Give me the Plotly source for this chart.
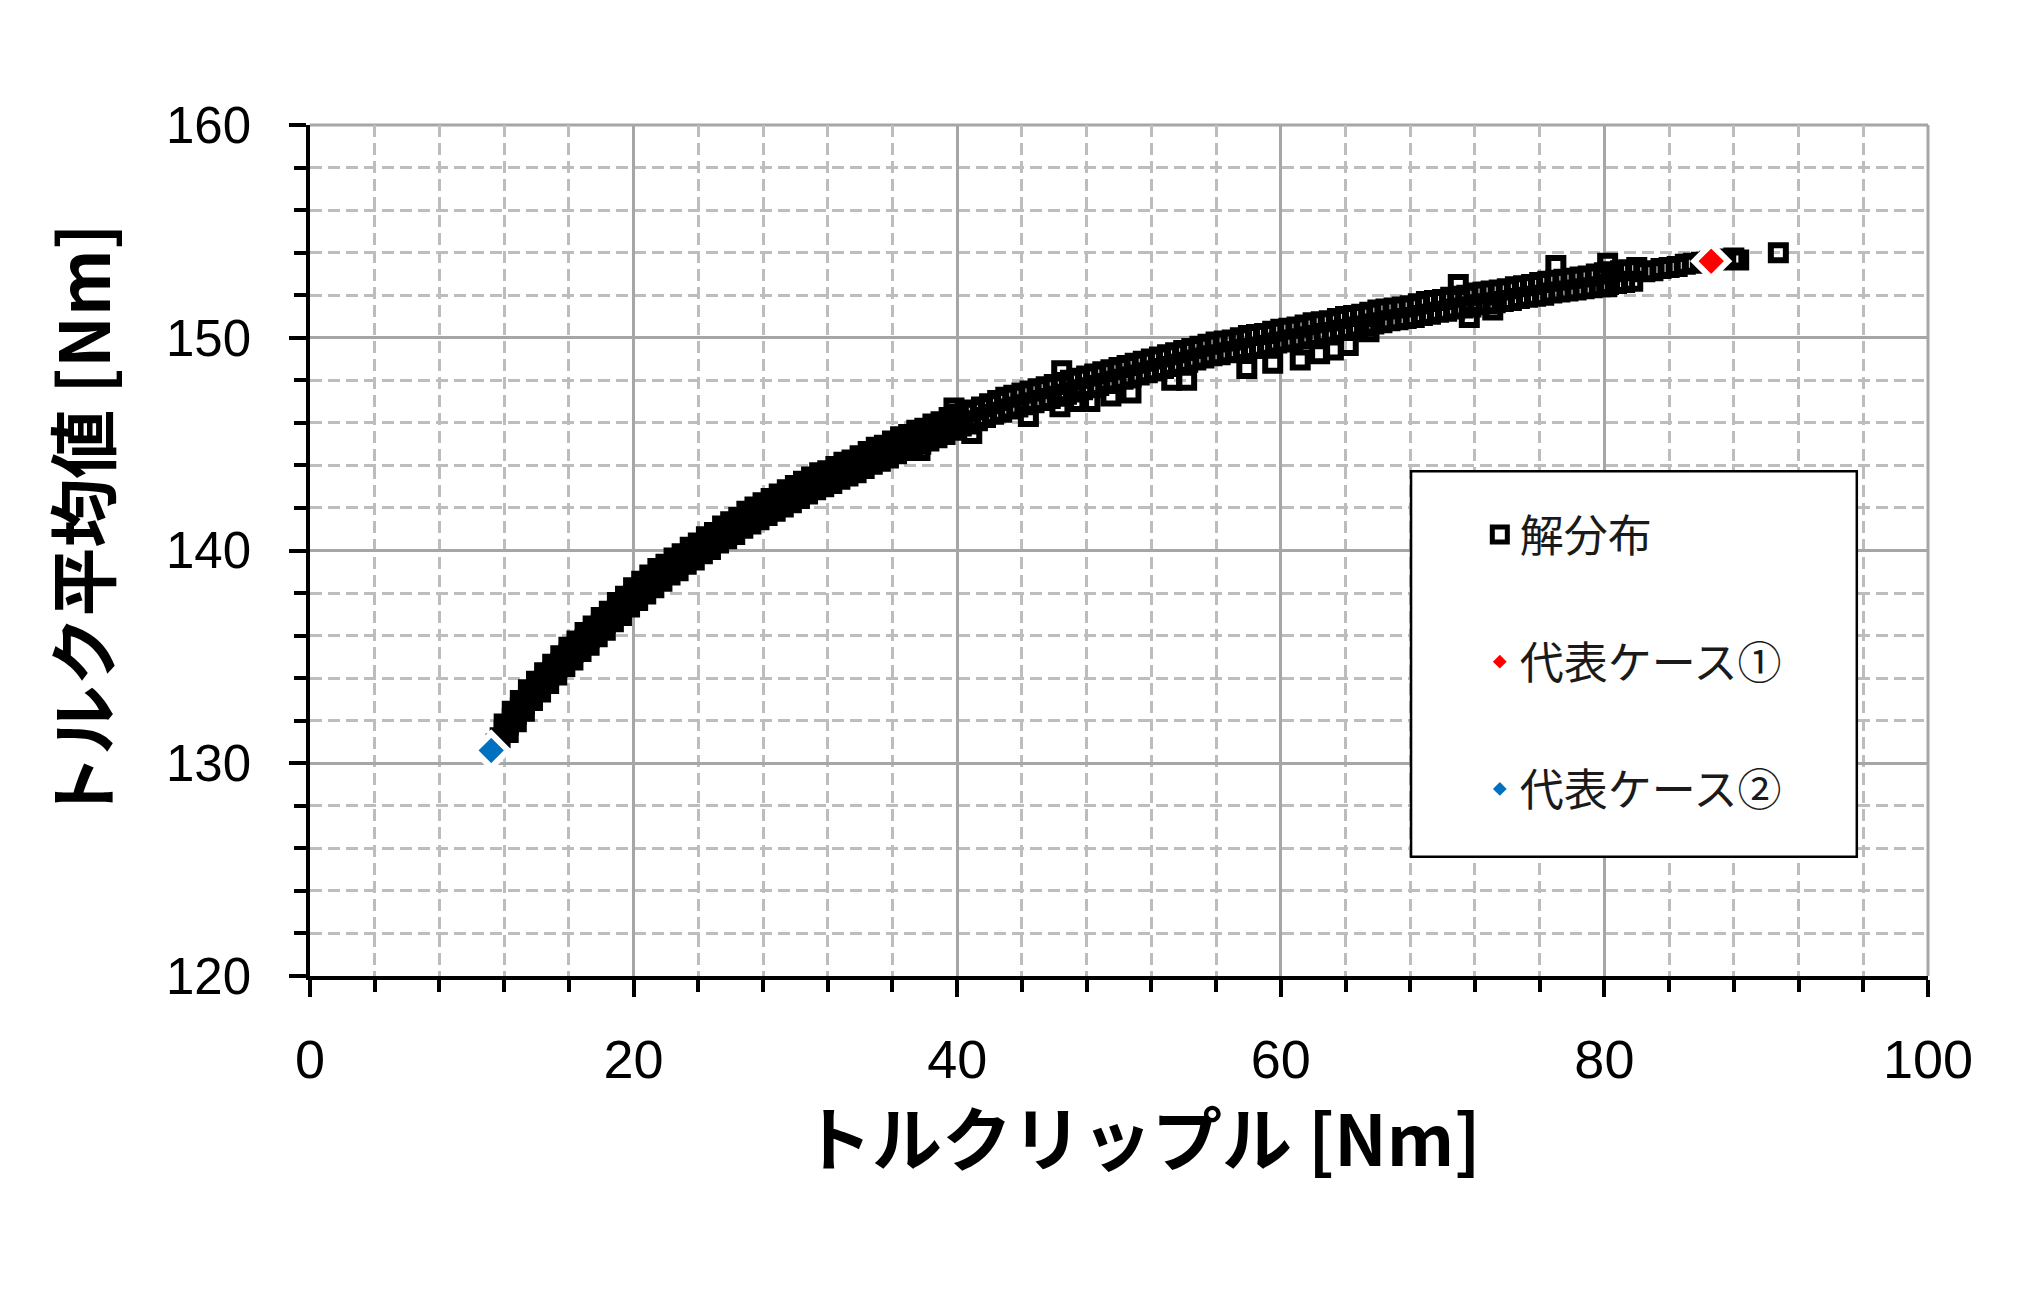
import plotly.graph_objects as go

# ---------------- data ----------------
# 解分布: dense band of solutions (torque ripple [Nm], mean torque [Nm])
# centre row, 11.5-40
ripple_a = [11.5, 11.75, 12.0, 12.25, 12.5, 12.75, 13.0, 13.25, 13.5, 13.75,
            14.0, 14.25, 14.5, 14.75, 15.0, 15.25, 15.5, 15.75, 16.0, 16.25,
            16.5, 16.75, 17.0, 17.25, 17.5, 17.75, 18.0, 18.25, 18.5, 18.75,
            19.0, 19.25, 19.5, 19.75, 20.0, 20.25, 20.5, 20.75, 21.0, 21.25,
            21.5, 21.75, 22.0, 22.25, 22.5, 22.75, 23.0, 23.25, 23.5, 23.75,
            24.0, 24.25, 24.5, 24.75, 25.0, 25.25, 25.5, 25.75, 26.0, 26.25,
            26.5, 26.75, 27.0, 27.25, 27.5, 27.75, 28.0, 28.25, 28.5, 28.75,
            29.0, 29.25, 29.5, 29.75, 30.0, 30.25, 30.5, 30.75, 31.0, 31.25,
            31.5, 31.75, 32.0, 32.25, 32.5, 32.75, 33.0, 33.25, 33.5, 33.75,
            34.0, 34.25, 34.5, 34.75, 35.0, 35.25, 35.5, 35.75, 36.0, 36.25,
            36.5, 36.75, 37.0, 37.25, 37.5, 37.75, 38.0, 38.25, 38.5, 38.75,
            39.0, 39.25, 39.5, 39.75]
mean_a = [130.9, 131.2, 131.5, 131.8, 132.1, 132.3, 132.6, 132.8, 133.1, 133.3,
          133.5, 133.7, 133.9, 134.1, 134.3, 134.5, 134.7, 134.9, 135.1, 135.2,
          135.4, 135.6, 135.8, 135.9, 136.1, 136.3, 136.5, 136.6, 136.8, 137.0,
          137.2, 137.3, 137.5, 137.7, 137.9, 138.0, 138.2, 138.3, 138.5, 138.6,
          138.8, 138.9, 139.0, 139.2, 139.3, 139.4, 139.5, 139.7, 139.8, 139.9,
          140.0, 140.2, 140.3, 140.4, 140.5, 140.7, 140.8, 140.9, 141.0, 141.1,
          141.2, 141.4, 141.5, 141.6, 141.7, 141.8, 141.9, 142.0, 142.1, 142.2,
          142.3, 142.4, 142.5, 142.6, 142.7, 142.8, 142.9, 143.0, 143.1, 143.2,
          143.3, 143.35, 143.4, 143.5, 143.6, 143.7, 143.8, 143.85, 143.9, 144.0,
          144.1, 144.2, 144.3, 144.4, 144.5, 144.55, 144.6, 144.7, 144.8, 144.9,
          145.0, 145.05, 145.1, 145.2, 145.3, 145.35, 145.4, 145.5, 145.6, 145.65,
          145.7, 145.8, 145.9, 146.0]

# upper edge row, 12-40
ripple_b = [12.0, 12.5, 13.0, 13.5, 14.0, 14.5, 15.0, 15.5, 16.0, 16.5,
            17.0, 17.5, 18.0, 18.5, 19.0, 19.5, 20.0, 20.5, 21.0, 21.5,
            22.0, 22.5, 23.0, 23.5, 24.0, 24.5, 25.0, 25.5, 26.0, 26.5,
            27.0, 27.5, 28.0, 28.5, 29.0, 29.5, 30.0, 30.5, 31.0, 31.5,
            32.0, 32.5, 33.0, 33.5, 34.0, 34.5, 35.0, 35.5, 36.0, 36.5,
            37.0, 37.5, 38.0, 38.5, 39.0, 39.5]
mean_b = [131.85, 132.45, 132.95, 133.45, 133.85, 134.25, 134.65, 135.05, 135.45, 135.75,
          136.15, 136.45, 136.85, 137.15, 137.55, 137.85, 138.25, 138.55, 138.85, 139.15,
          139.35, 139.65, 139.85, 140.15, 140.35, 140.65, 140.85, 141.15, 141.35, 141.55,
          141.85, 142.05, 142.25, 142.45, 142.65, 142.85, 143.05, 143.25, 143.45, 143.65,
          143.75, 143.95, 144.15, 144.25, 144.45, 144.65, 144.85, 144.95, 145.15, 145.35,
          145.45, 145.65, 145.75, 145.95, 146.05, 146.25]

# lower edge row, 12-40
ripple_g = [12.25, 12.75, 13.25, 13.75, 14.25, 14.75, 15.25, 15.75, 16.25, 16.75,
            17.25, 17.75, 18.25, 18.75, 19.25, 19.75, 20.25, 20.75, 21.25, 21.75,
            22.25, 22.75, 23.25, 23.75, 24.25, 24.75, 25.25, 25.75, 26.25, 26.75,
            27.25, 27.75, 28.25, 28.75, 29.25, 29.75, 30.25, 30.75, 31.25, 31.75,
            32.25, 32.75, 33.25, 33.75, 34.25, 34.75, 35.25, 35.75, 36.25, 36.75,
            37.25, 37.75, 38.25, 38.75, 39.25, 39.75]
mean_g = [131.45, 131.95, 132.45, 132.95, 133.35, 133.75, 134.15, 134.55, 134.85, 135.25,
          135.55, 135.95, 136.25, 136.65, 136.95, 137.35, 137.65, 137.95, 138.25, 138.55,
          138.85, 139.05, 139.35, 139.55, 139.85, 140.05, 140.35, 140.55, 140.75, 141.05,
          141.25, 141.45, 141.65, 141.85, 142.05, 142.25, 142.45, 142.65, 142.85, 143.0,
          143.15, 143.35, 143.5, 143.65, 143.85, 144.05, 144.2, 144.35, 144.55, 144.7,
          144.85, 145.0, 145.15, 145.3, 145.45, 145.65]

# upper row of the band, 40-82
ripple_c = [40.0, 40.5, 41.0, 41.5, 42.0, 42.5, 43.0, 43.5, 44.0, 44.5,
            45.0, 45.5, 46.0, 46.5, 47.0, 47.5, 48.0, 48.5, 49.0, 49.5,
            50.0, 50.5, 51.0, 51.5, 52.0, 52.5, 53.0, 53.5, 54.0, 54.5,
            55.0, 55.5, 56.0, 56.5, 57.0, 57.5, 58.0, 58.5, 59.0, 59.5,
            60.0, 60.5, 61.0, 61.5, 62.0, 62.5, 63.0, 63.5, 64.0, 64.5,
            65.0, 65.5, 66.0, 66.5, 67.0, 67.5, 68.0, 68.5, 69.0, 69.5,
            70.0, 70.5, 71.0, 71.5, 72.0, 72.5, 73.0, 73.5, 74.0, 74.5,
            75.0, 75.5, 76.0, 76.5, 77.0, 77.5, 78.0, 78.5, 79.0, 79.5,
            80.0, 80.5, 81.0, 81.5, 82.0]
mean_c = [146.4, 146.5, 146.6, 146.75, 146.9, 147.05, 147.2, 147.3, 147.4, 147.5,
          147.6, 147.7, 147.8, 147.9, 148.0, 148.1, 148.2, 148.3, 148.4, 148.5,
          148.6, 148.7, 148.8, 148.9, 149.0, 149.1, 149.2, 149.3, 149.4, 149.5,
          149.6, 149.7, 149.8, 149.85, 149.9, 150.0, 150.1, 150.15, 150.2, 150.3,
          150.4, 150.45, 150.5, 150.6, 150.7, 150.75, 150.8, 150.9, 151.0, 151.05,
          151.1, 151.2, 151.3, 151.35, 151.4, 151.45, 151.5, 151.6, 151.7, 151.75,
          151.8, 151.9, 151.95, 152.0, 152.1, 152.15, 152.2, 152.25, 152.3, 152.4,
          152.45, 152.5, 152.6, 152.65, 152.7, 152.75, 152.8, 152.85, 152.9, 153.0,
          153.05, 153.1, 153.15, 153.2, 153.3]

# lower row of the band, 40-82
ripple_d = [40.25, 40.75, 41.25, 41.75, 42.25, 42.75, 43.25, 43.75, 44.25, 44.75,
            45.25, 45.75, 46.25, 46.75, 47.25, 47.75, 48.25, 48.75, 49.25, 49.75,
            50.25, 50.75, 51.25, 51.75, 52.25, 52.75, 53.25, 53.75, 54.25, 54.75,
            55.25, 55.75, 56.25, 56.75, 57.25, 57.75, 58.25, 58.75, 59.25, 59.75,
            60.25, 60.75, 61.25, 61.75, 62.25, 62.75, 63.25, 63.75, 64.25, 64.75,
            65.25, 65.75, 66.25, 66.75, 67.25, 67.75, 68.25, 68.75, 69.25, 69.75,
            70.25, 70.75, 71.25, 71.75, 72.25, 72.75, 73.25, 73.75, 74.25, 74.75,
            75.25, 75.75, 76.25, 76.75, 77.25, 77.75, 78.25, 78.75, 79.25, 79.75,
            80.25, 80.75, 81.25, 81.75]
mean_d = [145.85, 145.95, 146.1, 146.25, 146.4, 146.5, 146.65, 146.75, 146.85, 146.95,
          147.05, 147.15, 147.25, 147.35, 147.45, 147.55, 147.65, 147.75, 147.85, 147.95,
          148.05, 148.15, 148.25, 148.35, 148.45, 148.55, 148.65, 148.75, 148.85, 148.95,
          149.05, 149.15, 149.2, 149.3, 149.35, 149.45, 149.5, 149.55, 149.65, 149.75,
          149.8, 149.9, 149.95, 150.05, 150.1, 150.2, 150.25, 150.35, 150.4, 150.5,
          150.55, 150.65, 150.7, 150.8, 150.85, 150.9, 150.95, 151.05, 151.1, 151.2,
          151.25, 151.35, 151.4, 151.45, 151.55, 151.6, 151.65, 151.7, 151.75, 151.85,
          151.9, 151.95, 152.0, 152.1, 152.15, 152.2, 152.25, 152.3, 152.35, 152.4,
          152.5, 152.55, 152.6, 152.65]

# narrow tail of the band, 82.5-88
ripple_e = [82.5, 83.0, 83.5, 84.0, 84.5, 85.0, 85.5, 86.0, 86.5, 87.0, 87.5, 88.0]
mean_e = [153.1, 153.15, 153.25, 153.3, 153.35, 153.45, 153.5, 153.55, 153.6, 153.65,
          153.7, 153.75]

# scattered solutions off the main band
ripple_f = [39.8, 37.7, 40.9, 44.4, 46.35, 46.46, 47.5, 48.2, 49.5, 50.74,
            53.26, 54.18, 57.9, 59.5, 61.2, 62.4, 63.25, 64.17, 65.45, 70.97,
            71.65, 73.1, 77.0, 80.2, 80.14, 88.3, 90.75]
mean_f = [146.7, 144.7, 145.5, 146.3, 146.76, 148.45, 147.0, 147.0, 147.26, 147.4,
          148.0, 148.0, 148.55, 148.8, 148.95, 149.25, 149.42, 149.63, 150.28, 152.5,
          150.95, 151.3, 153.4, 153.5, 152.4, 153.65, 154.0]

# 代表ケース① / ②
case1_ripple = [86.6]
case1_mean = [153.6]
case2_ripple = [11.2]
case2_mean = [130.6]

# axis ticks
x_ticks = [0, 20, 40, 60, 80, 100]
y_ticks = [120, 130, 140, 150, 160]

# axis titles
x_title = "トルクリップル [Nm]"
y_title = "トルク平均値 [Nm]"

# ---------------- figure ----------------
sol_x = ripple_a + ripple_b + ripple_g + ripple_c + ripple_d + ripple_e + ripple_f
sol_y = mean_a + mean_b + mean_g + mean_c + mean_d + mean_e + mean_f

JP = "Noto Sans CJK JP"

fig = go.Figure()
fig.add_trace(go.Scatter(
    x=sol_x, y=sol_y, mode="markers", name="解分布", legendgroup="g1",
    marker=dict(symbol="square-open", size=15, color="black",
                line=dict(width=6, color="black")),
))
fig.add_trace(go.Scatter(
    x=case1_ripple, y=case1_mean, mode="markers", name="代表ケース①", legendgroup="g2",
    marker=dict(symbol="diamond", size=26, color="#FF0000",
                line=dict(width=6, color="white")),
))
fig.add_trace(go.Scatter(
    x=case2_ripple, y=case2_mean, mode="markers", name="代表ケース②", legendgroup="g3",
    marker=dict(symbol="diamond", size=26, color="#0070C0",
                line=dict(width=6, color="white")),
))

major_grid = "#a6a6a6"
minor_grid = "#bdbdbd"

fig.update_xaxes(
    range=[0, 100], tickvals=x_ticks, ticktext=[str(v) for v in x_ticks],
    showline=True, linecolor="black", linewidth=3.5,
    ticks="outside", ticklen=17, tickwidth=3.5, tickcolor="black",
    showgrid=True, gridcolor=major_grid, gridwidth=3,
    zeroline=False,
    tickfont=dict(family="Liberation Sans Narrow, Arial Narrow, Liberation Sans", size=54, color="black"),
    ticklabelstandoff=16,
    minor=dict(dtick=4, ticks="outside", ticklen=12, tickwidth=3.5, tickcolor="black",
               showgrid=True, gridcolor=minor_grid, gridwidth=3, griddash="12px,6px"),
)
fig.update_yaxes(
    range=[120, 160], tickvals=y_ticks, ticktext=[str(v) for v in y_ticks],
    showline=True, linecolor="black", linewidth=3.5,
    ticks="outside", ticklen=17, tickwidth=3.5, tickcolor="black",
    showgrid=True, gridcolor=major_grid, gridwidth=3,
    zeroline=False,
    tickfont=dict(family="Liberation Sans, Arial", size=51, color="black"),
    ticklabelstandoff=28,
    minor=dict(dtick=2, ticks="outside", ticklen=12, tickwidth=3.5, tickcolor="black",
               showgrid=True, gridcolor=minor_grid, gridwidth=3, griddash="12px,6px"),
)

# axis titles placed as in the reference
fig.add_annotation(text="<b>" + x_title + "</b>", xref="paper", yref="paper",
                   x=0.514, y=-0.188, xanchor="center", yanchor="middle", showarrow=False,
                   font=dict(family=JP, size=70, color="black"))
fig.add_annotation(text="<b>" + y_title + "</b>", xref="paper", yref="paper",
                   x=-0.142, y=0.532, xanchor="center", yanchor="middle", showarrow=False,
                   textangle=-90, font=dict(family=JP, size=69, color="black"))

# frame on the top and right edges (gray, like the gridlines)
fig.add_shape(type="line", xref="paper", yref="paper", x0=0, x1=1, y0=1, y1=1,
              line=dict(color=major_grid, width=3), layer="below")
fig.add_shape(type="line", xref="paper", yref="paper", x0=1, x1=1, y0=0, y1=1,
              line=dict(color=major_grid, width=3), layer="below")

# legend frame
fig.add_shape(type="rect", xref="paper", yref="paper",
              x0=0.6805, x1=0.956, y0=0.140, y1=0.593,
              line=dict(color="black", width=2.5), fillcolor="white", layer="above")

fig.update_layout(
    width=2036, height=1289,
    margin=dict(l=310, r=108, t=125, b=313),
    paper_bgcolor="white", plot_bgcolor="white",
    showlegend=True,
    legend=dict(x=0.723, y=0.56, xanchor="left", yanchor="top",
                bgcolor="rgba(0,0,0,0)", borderwidth=0,
                traceorder="grouped", tracegroupgap=67,
                font=dict(family=JP, size=44, color="#1a1a1a")),
)

fig.write_html("out.html")
